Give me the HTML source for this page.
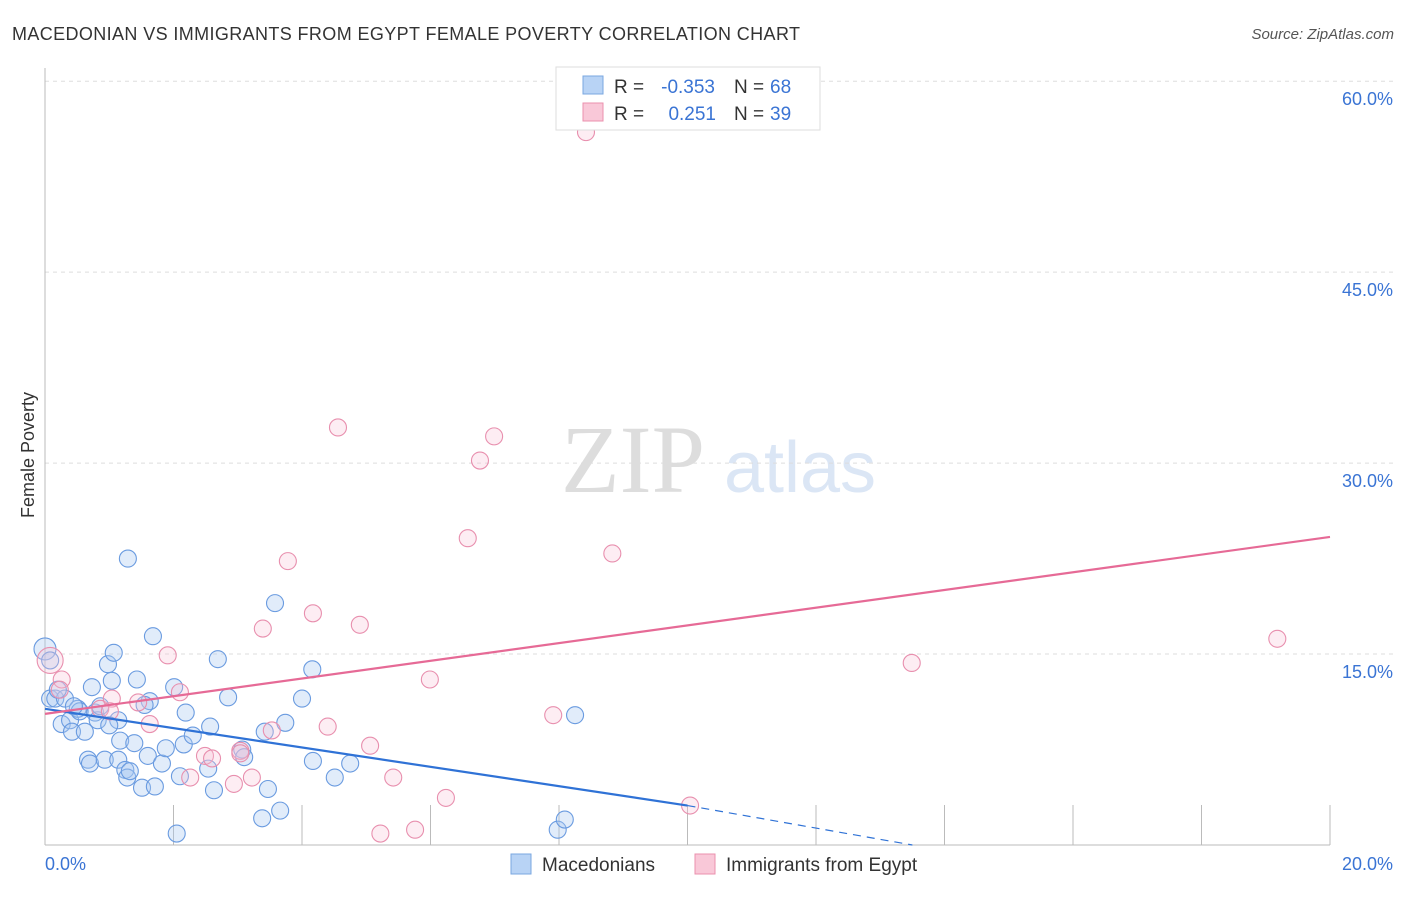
<!DOCTYPE html>
<html><head><meta charset="utf-8"><style>
body{margin:0;background:#fff;font-family:"Liberation Sans",sans-serif;}
</style></head><body>
<svg width="1406" height="892" xmlns="http://www.w3.org/2000/svg">
<text x="12" y="40" font-size="18" fill="#333" textLength="788">MACEDONIAN VS IMMIGRANTS FROM EGYPT FEMALE POVERTY CORRELATION CHART</text>
<text x="1394" y="39" font-size="15" fill="#555" font-style="italic" text-anchor="end">Source: ZipAtlas.com</text>
<text x="633" y="492" font-size="96" fill="#ddd" font-family="Liberation Serif" text-anchor="middle">ZIP</text>
<text x="800" y="492" font-size="72" fill="#dbe6f5" text-anchor="middle">atlas</text>
<g id="grid"></g>
<g id="axes"></g>
<g id="pts"></g>
<g id="lines"></g>
<text x="34" y="455" font-size="18" fill="#333" transform="rotate(-90 34 455)" text-anchor="middle">Female Poverty</text>
<g>
<rect x="556" y="67" width="264" height="63" fill="#fff" stroke="#ddd"/>
<rect x="583" y="76" width="20" height="18" fill="#b8d3f5" stroke="#7aa7e0"/>
<rect x="583" y="103" width="20" height="18" fill="#f9c8d8" stroke="#eb90ae"/>
<text x="614" y="93" font-size="19" fill="#333">R =</text>
<text x="715" y="93" font-size="19" fill="#3a74d4" text-anchor="end">-0.353</text>
<text x="734" y="93" font-size="19" fill="#333">N =</text>
<text x="770" y="93" font-size="19" fill="#3a74d4">68</text>
<text x="614" y="120" font-size="19" fill="#333">R =</text>
<text x="716" y="120" font-size="19" fill="#3a74d4" text-anchor="end">0.251</text>
<text x="734" y="120" font-size="19" fill="#333">N =</text>
<text x="770" y="120" font-size="19" fill="#3a74d4">39</text>
</g>
<g>
<rect x="511" y="854" width="20" height="20" fill="#b8d3f5" stroke="#7aa7e0"/>
<text x="542" y="871" font-size="19" fill="#333">Macedonians</text>
<rect x="695" y="854" width="20" height="20" fill="#f9c8d8" stroke="#eb90ae"/>
<text x="726" y="871" font-size="19" fill="#333">Immigrants from Egypt</text>
</g>
</svg>
<script>
const yTicks=[15,30,45,60];
const yTickLabels=["15.0%","30.0%","45.0%","60.0%"];
const xTicks=[2,4,6,8,10,12,14,16,18,20];
const blueX=[0,0.08,0.08,0.16,0.31,0.26,0.39,0.42,0.51,0.54,0.62,0.67,0.7,0.73,0.78,0.82,0.86,0.93,0.98,1.04,1.07,1.14,1.14,1.17,1.25,1.28,1.29,1.32,1.39,1.43,1.51,1.6,1.63,1.68,1.71,1.82,1.88,2.01,2.05,2.1,2.16,2.19,2.54,2.57,2.63,2.69,2.85,3.07,3.38,3.42,3.47,3.58,3.66,3.74,4.0,4.16,4.17,4.51,4.75,7.98,8.09,8.25,0.2,0.45,1.0,1.55,2.3,3.1];
const blueY=[15.4,14.5,11.5,11.5,11.5,9.5,9.8,8.9,10.7,10.5,8.9,6.7,6.4,12.4,10.4,9.8,10.9,6.7,14.2,12.9,15.1,9.8,6.7,8.2,5.9,5.3,22.5,5.8,8.0,13.0,4.5,7.0,11.3,16.4,4.6,6.4,7.6,12.4,0.9,5.4,7.9,10.4,6.0,9.3,4.3,14.6,11.6,7.5,2.1,8.9,4.4,19.0,2.7,9.6,11.5,13.8,6.6,5.3,6.4,1.2,2.0,10.2,12.2,10.9,9.4,11.0,8.6,6.9];
const pinkX=[0.08,0.26,0.86,1.04,1.45,1.63,1.91,2.1,2.26,2.49,2.6,2.94,3.04,3.22,3.39,3.53,3.78,4.17,4.4,4.56,4.9,5.06,5.22,5.42,5.76,5.99,6.24,6.58,6.77,6.99,7.91,8.42,8.83,10.04,13.49,19.18,0.23,3.04,1.01];
const pinkY=[14.5,13.0,10.7,11.5,11.2,9.5,14.9,12.0,5.3,7.0,6.8,4.8,7.4,5.3,17.0,9.0,22.3,18.2,9.3,32.8,17.3,7.8,0.9,5.3,1.2,13.0,3.7,24.1,30.2,32.1,10.2,56.0,22.9,3.1,14.3,16.2,12.2,7.2,10.5];
const blueFit=[[0,10.7],[10,3.1]];const blueDash=[[10,3.1],[13.5,0]];
const pinkFit=[[0,10.3],[20,24.2]];
const X=v=>45+v*64.25, Y=v=>845-v*12.73;
const NS="http://www.w3.org/2000/svg";
function mk(t,a,p){const e=document.createElementNS(NS,t);for(const k in a)e.setAttribute(k,a[k]);document.getElementById(p).appendChild(e);return e;}
yTicks.forEach((t,i)=>{let l=mk('line',{x1:45,x2:1394,y1:Y(t),y2:Y(t),stroke:'#ddd','stroke-dasharray':'4,4'},'grid');


let tx=mk('text',{x:1393,y:Y(t)+24,'font-size':18,fill:'#3a74d4','text-anchor':'end'},'grid');tx.textContent=yTickLabels[i];

});
let ax=mk('line',{x1:45,x2:1330,y1:845,y2:845,stroke:'#bbb'},'axes');


let ay=mk('line',{x1:45,x2:45,y1:68,y2:845,stroke:'#bbb'},'axes');


xTicks.forEach(t=>{let l=mk('line',{x1:X(t),x2:X(t),y1:805,y2:845,stroke:'#bbb'},'axes');

});
[["0.0%",45,'start'],["20.0%",1393,'end']].forEach(a=>{let t=mk('text',{x:a[1],y:870,'font-size':18,fill:'#3a74d4','text-anchor':a[2]},'axes');t.textContent=a[0];

});
blueX.forEach((x,i)=>{let c=mk('circle',{cx:X(x),cy:Y(blueY[i]),r:i==0?11:8.5,fill:'rgba(170,200,240,0.35)',stroke:'#6a9be0','stroke-width':1.1},'pts');

});
pinkX.forEach((x,i)=>{let c=mk('circle',{cx:X(x),cy:Y(pinkY[i]),r:i==0?13:8.5,fill:'rgba(248,195,215,0.3)',stroke:'#e88fae','stroke-width':1.1},'pts');

});
let b=mk('line',{x1:X(blueFit[0][0]),y1:Y(blueFit[0][1]),x2:X(blueFit[1][0]),y2:Y(blueFit[1][1]),stroke:'#2f72d6','stroke-width':2.2},'lines');


let bd=mk('line',{x1:X(blueDash[0][0]),y1:Y(blueDash[0][1]),x2:X(blueDash[1][0]),y2:Y(blueDash[1][1]),stroke:'#2f72d6','stroke-width':1.2,'stroke-dasharray':'8,6'},'lines');


let p=mk('line',{x1:X(pinkFit[0][0]),y1:Y(pinkFit[0][1]),x2:X(pinkFit[1][0]),y2:Y(pinkFit[1][1]),stroke:'#e66a96','stroke-width':2.2},'lines');


</script>
</body></html>
